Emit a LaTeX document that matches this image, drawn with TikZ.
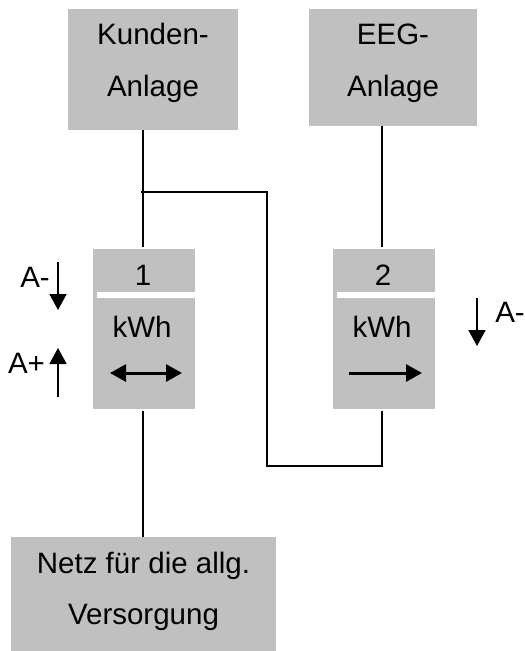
\documentclass[tikz,border=0pt]{standalone}
\usepackage{fontspec}
\setmainfont{Liberation Sans}
\usetikzlibrary{arrows.meta}
\definecolor{kastengrau}{HTML}{C0C0C0}
\tikzset{
  kasten/.style={fill=kastengrau,inner sep=0pt,align=center},
  beschriftung/.style={anchor=base,inner sep=0pt},
  leitung/.style={line width=2pt,line join=miter},
  pfeil/.style={line width=1.6pt,-{Triangle[length=16pt,width=17pt]}},
  kwhpfeil/.style={line width=3pt,-{Triangle[length=16pt,width=17pt]}},
  doppelpfeil/.style={line width=3pt,{Triangle[length=16pt,width=17pt]}-{Triangle[length=16pt,width=17pt]}}
}
\newcommand{\unten}[1]{\rule[-#1pt]{0pt}{0pt}}
\begin{document}
\begin{tikzpicture}[x=1pt,y=-1pt,font=\fontsize{29.5}{51.5}\selectfont]
  \useasboundingbox (0,0) rectangle (525,651);
  \node[kasten,minimum width=170pt,minimum height=121pt] (kunden) at (153,69.5) {Kunden-\\Anlage\unten{19}}; %Kundenanlage
  \node[kasten,minimum width=168pt,minimum height=117pt] (eeg) at (393,67.5) {EEG-\\Anlage\unten{15}}; %EEG-Anlage
  \node[kasten,minimum width=102pt,minimum height=160pt] (zaehlerA) at (144,329) {}; %Zaehler 1
  \node[kasten,minimum width=102pt,minimum height=160pt] (zaehlerB) at (384,329) {}; %Zaehler 2
  \node[kasten,minimum width=265pt,minimum height=114pt] (netz) at (143.5,594) {Netz für die allg.\\Versorgung\unten{11}}; %Netz
  \node[fill=white,inner sep=0pt,minimum width=99pt,minimum height=6pt] (streifenA) at (146,295) {};
  \node[fill=white,inner sep=0pt,minimum width=99pt,minimum height=6pt] (streifenB) at (386,295) {};
  \node[beschriftung] (nrA) at (143,285) {1};
  \node[beschriftung] (nrB) at (383,285) {2};
  \node[beschriftung] (kwhA) at (142,337) {kWh};
  \node[beschriftung] (kwhB) at (382,337) {kWh};
  \node[beschriftung] (minusA) at (35,287) {A-};
  \node[beschriftung] (plusA) at (26.5,373) {A+};
  \node[beschriftung] (minusB) at (510,322) {A-};
  %Leitungen
  \coordinate (abzweig) at (141,192);
  \coordinate (knickA) at (267,192);
  \coordinate (knickB) at (267,466);
  \coordinate (knickC) at (382,466);
  \draw[leitung,shorten >=2pt] (kunden.south -| nrA) -- (zaehlerA.north -| nrA);
  \draw[leitung,shorten >=2pt] (eeg.south -| knickC) -- (zaehlerB.north -| knickC);
  \draw[leitung,shorten <=2pt] (zaehlerA.south -| nrA) -- (netz.north -| nrA);
  \draw[leitung,shorten >=2pt] (abzweig) -- (knickA) -- (knickB) -- (knickC) -- (zaehlerB.south -| knickC);
  %Pfeile
  \coordinate (linksA) at (110,373);
  \coordinate (rechtsA) at (182,373);
  \coordinate (linksB) at (349,373);
  \coordinate (rechtsB) at (422,373);
  \draw[doppelpfeil] (linksA) -- (rechtsA);
  \draw[kwhpfeil] (linksB) -- (rechtsB);
  \coordinate (minusAoben) at (58,262);
  \coordinate (minusAunten) at (58,310);
  \coordinate (plusAunten) at (58,397);
  \coordinate (plusAoben) at (58,348);
  \coordinate (minusBoben) at (477,298);
  \coordinate (minusBunten) at (477,346);
  \draw[pfeil] (minusAoben) -- (minusAunten);
  \draw[pfeil] (plusAunten) -- (plusAoben);
  \draw[pfeil] (minusBoben) -- (minusBunten);
\end{tikzpicture}
\end{document}
